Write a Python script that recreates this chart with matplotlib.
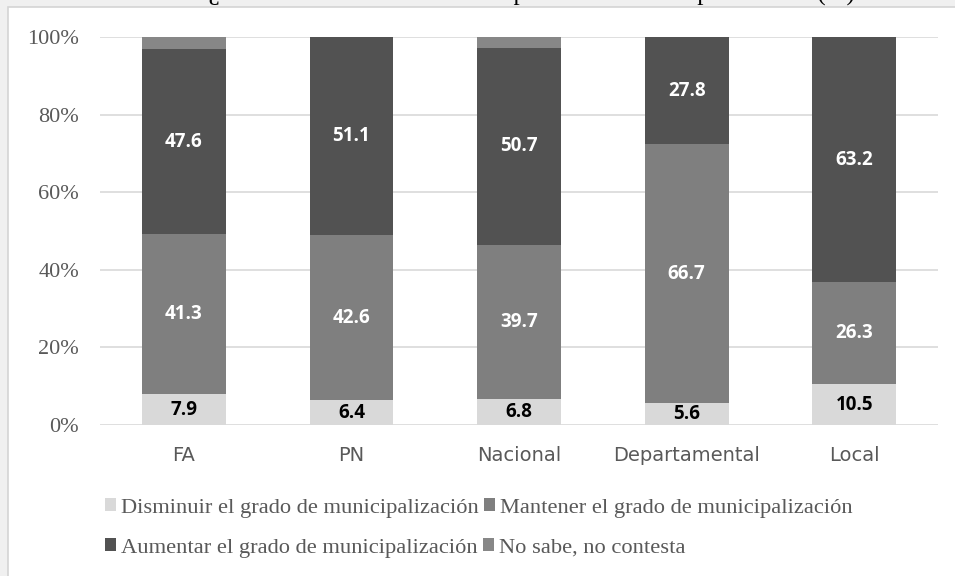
import numpy as np
import matplotlib
matplotlib.use('Agg')
import matplotlib.pyplot as plt
from matplotlib.patches import Rectangle, Patch

# data
categories = ['FA', 'PN', 'Nacional', 'Departamental', 'Local']
disminuir = [7.9, 6.4, 6.8, 5.6, 10.5]
mantener = [41.3, 42.6, 39.7, 66.7, 26.3]
aumentar = [47.6, 51.1, 50.7, 27.8, 63.2]
no_sabe = [3.2, 0.0, 2.8, 0.0, 0.0]
series_names = ['Disminuir el grado de municipalización',
                'Mantener el grado de municipalización',
                'Aumentar el grado de municipalización',
                'No sabe, no contesta']
yticks = [0, 20, 40, 60, 80, 100]
title = 'Gráfico 6. ¿Cómo desearía avanzar en el proceso de municipalización? (%)'

colors = ['#d9d9d9', '#7f7f7f', '#525252', '#878787']
label_colors = ['black', 'white', 'white', None]

W, H = 955, 576
fig = plt.figure(figsize=(W / 100, H / 100), dpi=100, facecolor='#f0f0f0')

# white chart box
fig.patches.append(Rectangle((8 / W, -0.01), 1.0, (H - 7) / H + 0.01,
                             transform=fig.transFigure, facecolor='white',
                             edgecolor='#d4d4d4', linewidth=1.2, zorder=-5))

# title, cut off by the top edge as in the source
fig.text(478 / W, 1.0 - 1 / H, title, ha='center', va='baseline',
         fontsize=18, family='Liberation Serif', color='black')

ax = fig.add_axes([100 / W, 151 / H, 838 / W, 388 / H])
ax.set_facecolor('none')
ax.set_zorder(2)

x = np.arange(len(categories))
series = [disminuir, mantener, aumentar, no_sabe]
bottom = np.zeros(len(categories))
for vals, col, lc in zip(series, colors, label_colors):
    vals = np.array(vals)
    ax.bar(x, vals, 0.5, bottom=bottom, color=col, zorder=3)
    if lc is not None:
        for xi, b, v in zip(x, bottom, vals):
            ax.text(xi, b + v / 2, f'{v:.1f}', ha='center', va='center',
                    color=lc, fontsize=13.5, fontweight='bold',
                    family='Open Sans', zorder=4)
    bottom += vals

ax.set_xlim(-0.5, len(categories) - 0.5)
ax.set_ylim(0, 100)
ax.set_yticks(yticks)
ax.set_yticklabels([f'{v}%' for v in yticks], family='Liberation Serif',
                   fontsize=16, color='#595959')
ax.set_xticks(x)
ax.set_xticklabels(categories, family='DejaVu Sans',
                   fontsize=14, color='#595959')
ax.tick_params(axis='y', length=0, pad=15)
ax.tick_params(axis='x', length=0, pad=15)
for s in ax.spines.values():
    s.set_visible(False)
ax.grid(axis='y', color='#d9d9d9', linewidth=1.2, zorder=0)
ax.set_axisbelow(True)

handles = [Patch(facecolor=c, edgecolor='none') for c in colors]
leg_kw = dict(frameon=False, loc='center left', borderpad=0, borderaxespad=0,
              handlelength=0.5, handleheight=0.5, handletextpad=0.2,
              columnspacing=0.25, ncol=2,
              prop={'family': 'Liberation Serif', 'size': 16.2})
leg1 = fig.legend(handles[:2], series_names[:2],
                  bbox_to_anchor=(105 / W, 68 / H), **leg_kw)
for t in leg1.get_texts():
    t.set_color('#595959')
leg2 = fig.legend(handles[2:], series_names[2:],
                  bbox_to_anchor=(105 / W, 28 / H), **leg_kw)
for t in leg2.get_texts():
    t.set_color('#595959')

fig.savefig('out.png', dpi=100, facecolor=fig.get_facecolor())
